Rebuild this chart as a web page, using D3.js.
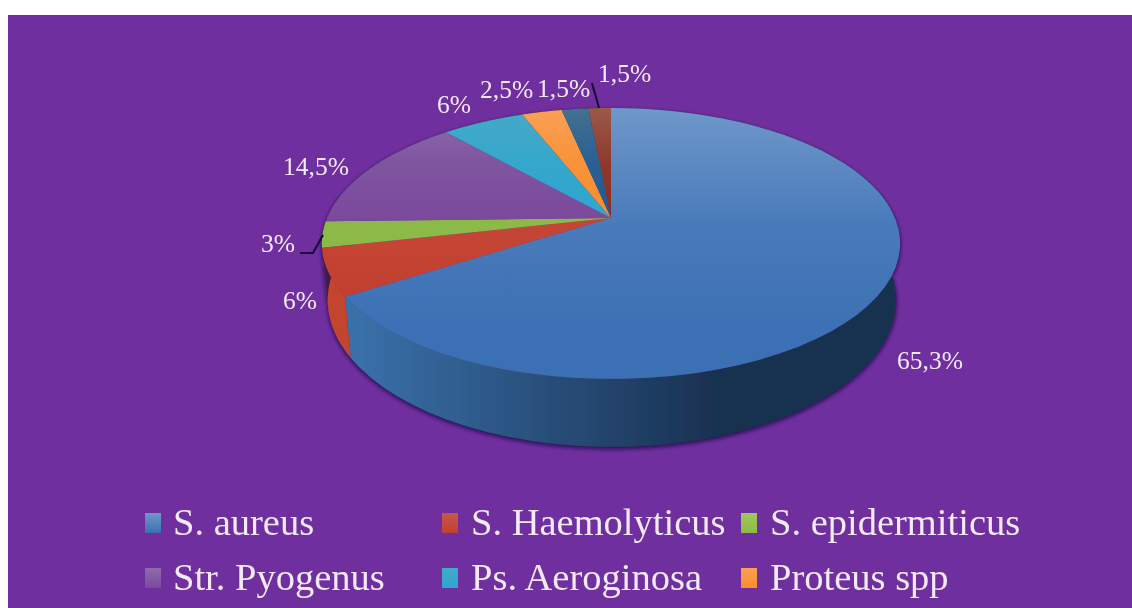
<!DOCTYPE html>
<html><head><meta charset="utf-8">
<script src="https://cdn.jsdelivr.net/npm/d3@7"></script>
<style>html,body{margin:0;padding:0;background:#fff}svg{display:block}text{font-family:"Liberation Serif",serif;fill:#f3eaf6}</style>
</head><body><div id="c"></div>
<script>
const sliceNames = ["S. aureus","S. Haemolyticus","S. epidermiticus","Str. Pyogenus","Ps. Aeroginosa","Proteus spp","Other 1","Other 2"];
const sliceShares = [65.9,5.6,3.1,13.85,5.55,2.7,1.8,1.5];
const sliceLabels = ["65,3%","6%","3%","14,5%","6%","2,5%","1,5%","1,5%"];
const legendRow1 = ["S. aureus","S. Haemolyticus","S. epidermiticus"];
const legendRow2 = ["Str. Pyogenus","Ps. Aeroginosa","Proteus spp"];
const topColorsA = ["#6f98ca","#c8584a","#a3c75a","#8d6cab","#46a9c6","#f8a056","#44708f","#9a5a48"];
const topColorsB = ["#3b6fb4","#c2402f","#8cba48","#7a4a9c","#2ea6cf","#fa8d2c","#1d5a96","#8a2c20"];
const sideColorsA = ["#3a72ac","#c4442e","#3a1a50","#3a1a50","#3a1a50","#3a1a50","#3a1a50","#3a1a50"];
const sideColorsB = ["#193050","#a53a28","#3a1a50","#3a1a50","#3a1a50","#3a1a50","#3a1a50","#3a1a50"];

const W = 1132, H = 608;
const svg = d3.select("#c").append("svg").attr("width",W).attr("height",H);
const defs = svg.append("defs");
svg.append("rect").attr("x",8).attr("y",15).attr("width",W-8).attr("height",H-15).attr("fill","#6f2f9e");

const soft = defs.append("filter").attr("id","soft").attr("x","-5%").attr("y","-5%").attr("width","110%").attr("height","110%");
soft.append("feGaussianBlur").attr("stdDeviation",0.6);
const softText = defs.append("filter").attr("id","softText").attr("x","-5%").attr("y","-5%").attr("width","110%").attr("height","110%");
softText.append("feGaussianBlur").attr("stdDeviation",0.35);
const shadow = defs.append("filter").attr("id","shadow").attr("x","-5%").attr("y","-5%").attr("width","110%").attr("height","115%");
shadow.append("feDropShadow").attr("dx",0).attr("dy",2).attr("stdDeviation",2).attr("flood-color","#180a45").attr("flood-opacity",0.95);

// Perspective projection of the unit disc onto the page
const apexX = 611, apexY = 218, persp = 0.188, radiusX = 284, radiusY = 130.7;
const sx = d3.scaleLinear().domain([-1,1]).range([apexX-radiusX,apexX+radiusX]);
const sy = d3.scaleLinear().domain([-1,1]).range([apexY-radiusY,apexY+radiusY]);
function topPoint(a){
  const x = Math.sin(a), y = -Math.cos(a), w = 1-persp*y;
  return [sx(x/w), sy(y/w)];
}
function basePoint(a){
  const p = topPoint(a);
  return [apexX+(p[0]-apexX)*0.983+1, apexY+(p[1]-apexY)*1.085+54.3];
}
const arcs = d3.pie().sort(null).value(d=>d)(sliceShares);
const sampled = d => d3.range(0,61).map(i=>d.startAngle+(d.endAngle-d.startAngle)*i/60);
const line = d3.line();

arcs.forEach((d,i)=>{
  const g = defs.append("linearGradient").attr("id","top"+i).attr("gradientUnits","userSpaceOnUse")
    .attr("x1",0).attr("x2",0).attr("y1",108).attr("y2",i===0?340:(i===1?300:220));
  g.append("stop").attr("offset",0).attr("stop-color",topColorsA[i]);
  g.append("stop").attr("offset",0.5).attr("stop-color",d3.interpolateRgb(topColorsA[i],topColorsB[i])(0.72));
  g.append("stop").attr("offset",1).attr("stop-color",topColorsB[i]);
  const s = defs.append("linearGradient").attr("id","side"+i).attr("gradientUnits","userSpaceOnUse")
    .attr("x1",345).attr("x2",720).attr("y1",0).attr("y2",0);
  s.append("stop").attr("offset",0).attr("stop-color",sideColorsA[i]);
  s.append("stop").attr("offset",1).attr("stop-color",sideColorsB[i]);
});

const pie = svg.append("g").attr("filter","url(#soft)");
const sides = pie.append("g").attr("filter","url(#shadow)");
sides.selectAll("path").data(arcs).join("path")
  .attr("d",d=>{
    const as = sampled(d);
    return line(as.map(topPoint).concat(as.slice().reverse().map(basePoint)))+"Z";
  })
  .attr("fill",(d,i)=>`url(#side${i})`);
pie.append("g").selectAll("path").data(arcs).join("path")
  .attr("d",d=>line([[apexX,apexY]].concat(sampled(d).map(topPoint)))+"Z")
  .attr("fill",(d,i)=>`url(#top${i})`);

// Leader lines
const leaderA = [[323,235],[313,253],[300,253]], leaderB = [[592,83],[599,108]];
svg.append("g").attr("filter","url(#soft)").selectAll("path").data([leaderA,leaderB]).join("path")
  .attr("d",line).attr("fill","none").attr("stroke","#120a30").attr("stroke-width",2);

// Data labels, one anchor per slice
const labelX = [897,283,261,283,437,480,537,598];
const labelY = [369,309,252,175,113,98,97,82];
svg.append("g").attr("font-size",25.5).attr("filter","url(#softText)").selectAll("text").data(sliceLabels).join("text")
  .attr("x",(d,i)=>labelX[i]).attr("y",(d,i)=>labelY[i]).text(d=>d);

// Legend
const legendX = [145,442,741], legendBase = [535,590];
[legendRow1,legendRow2].forEach((row,r)=>{
  const g = svg.append("g").attr("filter","url(#softText)");
  row.forEach((name,c)=>{
    const idx = sliceNames.indexOf(name);
    const gid = "leg"+idx;
    const lg = defs.append("linearGradient").attr("id",gid).attr("x1",0).attr("x2",0).attr("y1",0).attr("y2",1);
    lg.append("stop").attr("offset",0).attr("stop-color",topColorsA[idx]);
    lg.append("stop").attr("offset",1).attr("stop-color",topColorsB[idx]);
    g.append("rect").attr("x",legendX[c]).attr("y",legendBase[r]-22).attr("width",16).attr("height",20).attr("fill",`url(#${gid})`);
    g.append("text").attr("x",legendX[c]+28+(c===0?0:1)).attr("y",legendBase[r]).attr("font-size",38.5).text(name);
  });
});
</script></body></html>
